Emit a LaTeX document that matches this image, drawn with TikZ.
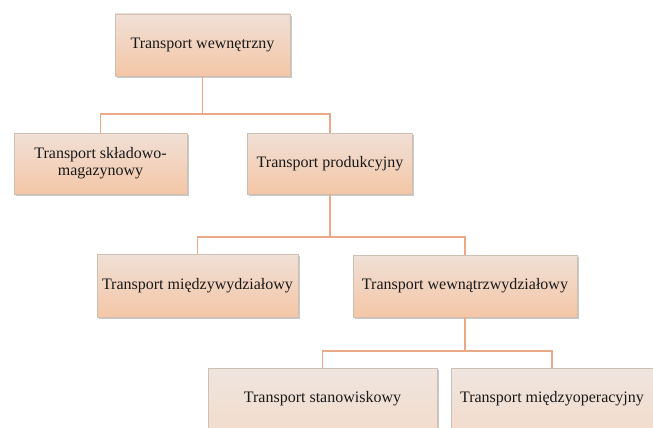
\documentclass[tikz,border=0pt]{standalone}
\usepackage{fontspec}
\setmainfont{Liberation Serif}
\newfontfamily\boxfont{Liberation Serif}
\usetikzlibrary{shadows}
\definecolor{linec}{HTML}{EBA987}
\definecolor{bordc}{HTML}{CDBFB2}
\definecolor{topA}{HTML}{F0E0D6}
\definecolor{botA}{HTML}{F4C6A6}
\definecolor{topB}{HTML}{EFE5DF}
\definecolor{botB}{HTML}{F2DCCD}
\tikzset{
  boxA/.style={draw=bordc, line width=0.8pt, top color=topA, bottom color=botA,
    inner sep=2pt, align=center, font=\boxfont\fontsize{16}{17}\selectfont, text=black!90,
    drop shadow={shadow xshift=1.5pt, shadow yshift=-2pt, opacity=0.35, fill=black!60}},
  boxB/.style={boxA, top color=topB, bottom color=botB},
  conn/.style={draw=linec, line width=1.4pt}
}
\begin{document}
\begin{tikzpicture}[x=1pt,y=-1pt]
\path[use as bounding box] (0,0) rectangle (653,428);
\fill[white] (0,0) rectangle (653,428);
\begin{scope}
\clip (0,0) rectangle (653,428);
\node[boxA, minimum width=175pt, minimum height=62pt] (b1) at (202.5,45) {Transport wewnętrzny};
\node[boxA, minimum width=173pt, minimum height=61pt] (b2) at (100.5,163.5) {Transport składowo-\\magazynowy};
\node[boxA, minimum width=165pt, minimum height=61pt] (b3) at (330,163.5) {Transport produkcyjny};
\node[boxA, minimum width=201pt, minimum height=63pt] (b4) at (197.5,285.5) {Transport międzywydziałowy};
\node[boxA, minimum width=224pt, minimum height=62pt] (b5) at (465,286) {Transport wewnątrzwydziałowy};
\node[boxB, minimum width=229pt, minimum height=62pt] (b6) at (322.5,399) {Transport stanowiskowy};
\node[boxB, minimum width=202pt, minimum height=62pt] (b7) at (552,399) {Transport międzyoperacyjny};
\coordinate (j1) at (202.5,114);
\coordinate (j2) at (330,237);
\coordinate (j3) at (465,351);
\draw[conn] (b1.south) -- (j1) -| (b2.north);
\draw[conn] (j1) -| (b3.north);
\draw[conn] (b3.south) -- (j2) -| (b4.north);
\draw[conn] (j2) -| (b5.north);
\draw[conn] (b5.south) -- (j3) -| (b6.north);
\draw[conn] (j3) -| (b7.north);
\end{scope}
\end{tikzpicture}
\end{document}
